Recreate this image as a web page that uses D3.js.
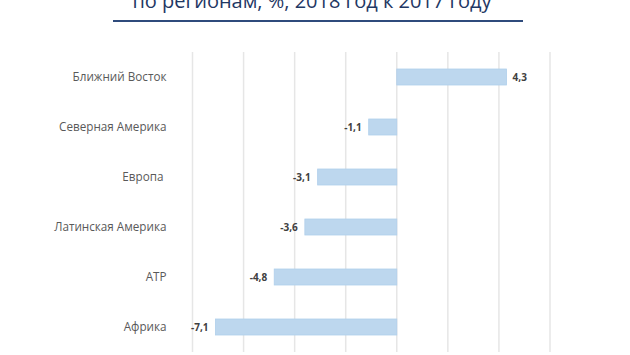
<!DOCTYPE html>
<html><head><meta charset="utf-8">
<script src="https://cdn.jsdelivr.net/npm/d3@7"></script>
<style>body{margin:0;background:#fff;} svg{display:block;}</style>
</head><body>
<svg id="c" width="630" height="355"></svg>
<script>
const titleText = "по регионам, %, 2018 год к 2017 году";
const categories = ["Ближний Восток","Северная Америка","Европа ","Латинская Америка","АТР","Африка"];
const values = [4.3,-1.1,-3.1,-3.6,-4.8,-7.1];
const labels = ["4,3","-1,1","-3,1","-3,6","-4,8","-7,1"];
const xTicks = [-8,-6,-4,-2,0,2,4,6];

const svg = d3.select("#c");
const m = {left:192.5, right:550, top:52, bottom:352};
const x = d3.scaleLinear().domain([-8,6]).range([m.left,m.right]);
const y = d3.scaleBand().domain(categories).range([m.top,m.bottom]).paddingInner(0.68).paddingOuter(0.34);

svg.append("text").attr("x",312).attr("y",8).attr("text-anchor","middle")
  .attr("font-family","Open Sans").attr("font-size",20).attr("fill","#1f3864").text(titleText);
svg.append("line").attr("x1",113).attr("x2",523).attr("y1",21).attr("y2",21)
  .attr("stroke","#2f4b7c").attr("stroke-width",2);

svg.append("g").selectAll("line").data(xTicks).join("line")
  .attr("x1",d=>x(d)).attr("x2",d=>x(d)).attr("y1",m.top).attr("y2",m.bottom)
  .attr("stroke","#e6e6e6").attr("stroke-width",1.5);

svg.append("g").selectAll("rect").data(values).join("rect")
  .attr("x",d=>x(Math.min(0,d))).attr("width",d=>Math.abs(x(d)-x(0)))
  .attr("y",(d,i)=>y(categories[i])).attr("height",y.bandwidth())
  .attr("fill","#bdd7ee").attr("stroke","#b0cfeb").attr("stroke-width",0.8);

svg.append("g").selectAll("text").data(values).join("text")
  .attr("x",d=>d>=0?x(d)+6:x(d)-7)
  .attr("y",(d,i)=>y(categories[i])+y.bandwidth()/2)
  .attr("dy","0.35em").attr("text-anchor",d=>d>=0?"start":"end")
  .attr("font-family","Open Sans").attr("font-weight","bold").attr("font-size",10)
  .attr("fill","#404040").text((d,i)=>labels[i]);

svg.append("g").selectAll("text").data(categories).join("text")
  .attr("x",166.5).attr("y",d=>y(d)+y.bandwidth()/2)
  .attr("dy","0.35em").attr("text-anchor","end").attr("xml:space","preserve")
  .style("white-space","pre")
  .attr("font-family","Open Sans").attr("font-size",11.7).attr("fill","#595959").text(d=>d);
</script>
</body></html>
